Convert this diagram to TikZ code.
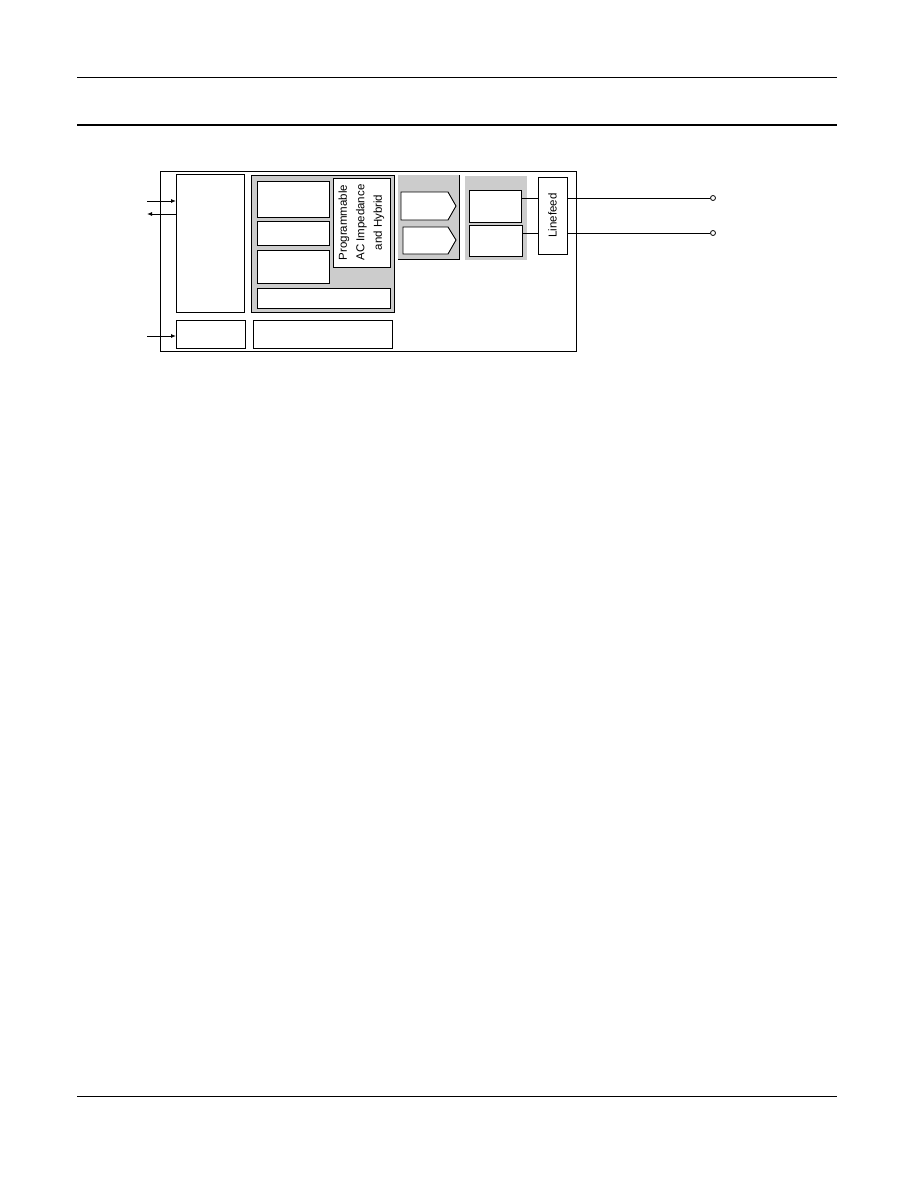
\documentclass[tikz,border=0pt]{standalone}
\usepackage{fontspec}
\setmainfont{Liberation Sans}
\usetikzlibrary{arrows.meta}

\definecolor{panel}{RGB}{204,204,204}

\begin{document}
\begin{tikzpicture}[x=1pt, y=-1pt,
>={Latex[length=5pt,width=4pt]},
box/.style={draw=black, fill=white, line width=0.9pt, inner sep=0pt, outer sep=0pt, anchor=north west},
panelbox/.style={box, fill=panel},
shade/.style={fill=panel, inner sep=0pt, outer sep=0pt, anchor=north west},
label/.style={rotate=90, align=center, font=\fontsize{11.5}{17.5}\selectfont},
term/.style={circle, draw=black, fill=white, line width=0.8pt, inner sep=0pt, minimum size=5pt}
]
\useasboundingbox (0,0) rectangle (918,1188);
%Page rules
\draw[line width=1pt] (77,78) -- (837,78);
\draw[line width=2pt] (77,125) -- (837,125);
\draw[line width=1pt] (77,1096) -- (837,1096);
%Nodes
\node[box, minimum width=416, minimum height=180] (chip)   at (160,171) {};
\node[box, minimum width=68,  minimum height=138] (iface)  at (176,174) {};
\node[box, minimum width=69,  minimum height=28]  (ctrl)   at (176,320) {};
\node[box, minimum width=139, minimum height=28]  (supply) at (253,320) {};
\node[panelbox, minimum width=143, minimum height=137] (dsp) at (251,175) {};
\node[box, minimum width=72,  minimum height=36]  (dspa)   at (257,181) {};
\node[box, minimum width=72,  minimum height=24]  (dspb)   at (257,221) {};
\node[box, minimum width=72,  minimum height=33]  (dspc)   at (257,250) {};
\node[box, minimum width=57,  minimum height=89]  (zac)    at (333,178) {};
\node[label] at (zac.center) {Programmable\\AC Impedance\\and Hybrid};
\node[box, minimum width=133, minimum height=20]  (dspd)   at (257,288) {};
\node[shade, minimum width=61, minimum height=84] (conv)   at (398,175) {};
\draw[line width=0.9pt] (conv.north east) -- (conv.south east) -- (conv.south west);
\draw[line width=0.9pt, fill=white] (401,192) -- (448,192) -- (456,206) -- (448,220) -- (401,220) -- cycle;
\draw[line width=0.9pt, fill=white] (403,227) -- (448,227) -- (456,240) -- (448,254) -- (403,254) -- cycle;
\node[shade, minimum width=62, minimum height=84] (slic)   at (465,176) {};
\node[box, minimum width=52,  minimum height=32]  (slica)  at (469,190) {};
\node[box, minimum width=53,  minimum height=31]  (slicb)  at (469,225) {};
\node[box, minimum width=29,  minimum height=77]  (feed)   at (538,177) {};
\node[label] at (feed.center) {Linefeed};
\node[term] (tip)  at (713,198) {};
\node[term] (ring) at (713,233) {};
\coordinate (rxin)  at (147,201);
\coordinate (txout) at (147,214);
\coordinate (ctin)  at (147,336);
%Lines
\draw[line width=0.9pt] (slica.east |- tip) -- (feed.west |- tip);
\draw[line width=0.9pt] (slicb.east |- ring) -- (feed.west |- ring);
\draw[line width=0.9pt] (feed.east |- tip) -- (tip);
\draw[line width=0.9pt] (feed.east |- ring) -- (ring);
\draw[line width=0.9pt, ->] (rxin) -- (rxin -| iface.west);
\draw[line width=0.9pt, ->] (txout -| iface.west) -- (txout);
\draw[line width=0.9pt, ->] (ctin) -- (ctin -| ctrl.west);
\end{tikzpicture}
\end{document}
